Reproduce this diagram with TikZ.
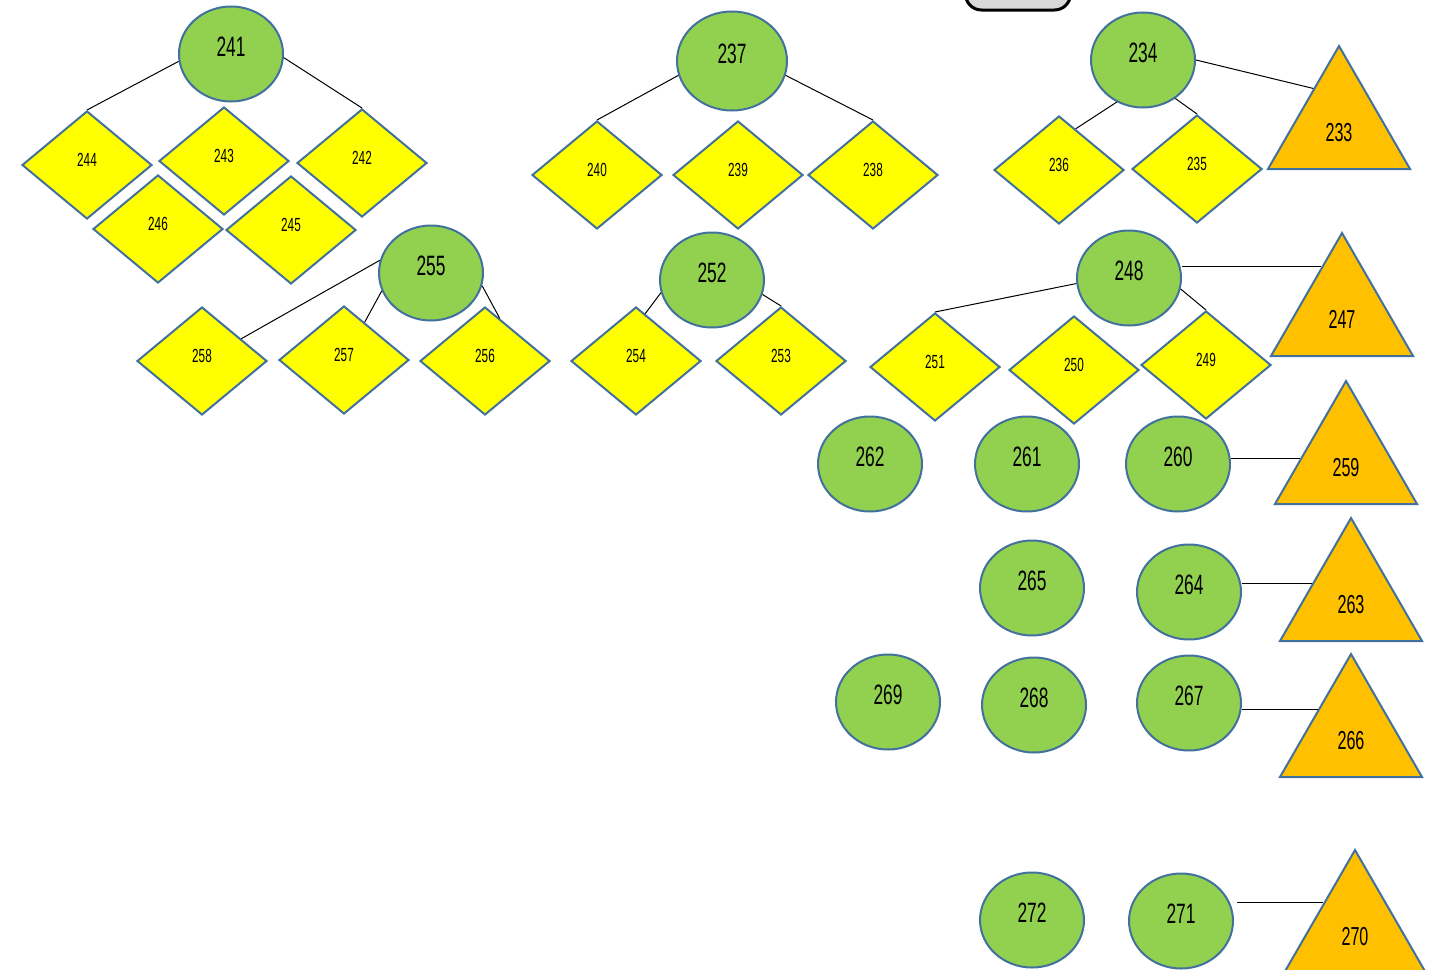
\documentclass[tikz,border=0pt]{standalone}
\usepackage{fontspec}
\setmainfont{Liberation Sans}[FakeStretch=0.62]
\usetikzlibrary{shapes.geometric}
\definecolor{leafgreen}{HTML}{92D050}
\definecolor{gemyellow}{HTML}{FFFF00}
\definecolor{peakorange}{HTML}{FFC000}
\definecolor{edgeblue}{HTML}{41719C}
\definecolor{boxgray}{HTML}{D9D9D9}
\tikzset{
  ring/.style={ellipse, draw=edgeblue, line width=1pt, fill=leafgreen, minimum width=52pt, minimum height=47.5pt, inner sep=0pt, text depth=7pt, font=\fontsize{14}{14}\selectfont},
  gem/.style={diamond, aspect=1.2, draw=edgeblue, line width=1pt, fill=gemyellow, minimum width=65pt, minimum height=54pt, inner sep=0pt, text depth=5pt, font=\fontsize{9.5}{9.5}\selectfont},
  peak/.style={regular polygon, regular polygon sides=3, draw=edgeblue, line width=1pt, fill=peakorange, minimum size=82pt, inner sep=0pt, text height=13.5pt, font=\fontsize{13}{13}\selectfont},
  link/.style={draw=black, line width=0.5pt}
}
\begin{document}
\begin{tikzpicture}[x=0.5pt, y=-0.5pt]
\useasboundingbox (0,0) rectangle (1429,969);
\node[draw=black, line width=1.5pt, fill=boxgray, rounded corners=8pt, minimum width=52.5pt, minimum height=25pt] (topbox) at (1018,-15) {};

\node[ring] (n241) at (231,54) {241};
\node[ring, minimum width=55pt, minimum height=49.5pt] (n237) at (732,61) {237};
\node[ring] (n234) at (1143,60) {234};
\node[ring] (n255) at (431,273) {255};
\node[ring] (n252) at (712,280) {252};
\node[ring] (n248) at (1129,278) {248};
\node[ring] (n262) at (870,464) {262};
\node[ring] (n261) at (1027,464) {261};
\node[ring] (n260) at (1178,464) {260};
\node[ring] (n265) at (1032,588) {265};
\node[ring] (n264) at (1189,592) {264};
\node[ring] (n269) at (888,702) {269};
\node[ring] (n268) at (1034,705) {268};
\node[ring] (n267) at (1189,703) {267};
\node[ring] (n272) at (1032,920) {272};
\node[ring] (n271) at (1181,921) {271};

\node[gem] (n244) at (87,165) {244};
\node[gem] (n243) at (224,161) {243};
\node[gem] (n242) at (362,163) {242};
\node[gem] (n246) at (158,229) {246};
\node[gem] (n245) at (291,230) {245};
\node[gem] (n240) at (597,175) {240};
\node[gem] (n239) at (738,175) {239};
\node[gem] (n238) at (873,175) {238};
\node[gem] (n236) at (1059,170) {236};
\node[gem] (n235) at (1197,169) {235};
\node[gem] (n258) at (202,361) {258};
\node[gem] (n257) at (344,360) {257};
\node[gem] (n256) at (485,361) {256};
\node[gem] (n254) at (636,361) {254};
\node[gem] (n253) at (781,361) {253};
\node[gem] (n251) at (935,367) {251};
\node[gem] (n250) at (1074,370) {250};
\node[gem] (n249) at (1206,365) {249};

\node[peak] (n233) at (1339,128) {233};
\node[peak] (n247) at (1342,315) {247};
\node[peak] (n259) at (1346,463) {259};
\node[peak] (n263) at (1351,600) {263};
\node[peak] (n266) at (1351,736) {266};
\node[peak] (n270) at (1355,932) {270};

\draw[link] (n241.188) -- (n244.north);
\draw[link] (n241.-4) -- (n242.north);
\draw[link] (n237.195) -- (n240.north);
\draw[link] (n237.-15) -- (n238.north);
\draw[link] (n234.east) -- (n233.123);
\draw[link] (n234.238) -- (n236.68);
\draw[link] (n234.-50) -- (n235.north);
\draw[link] (n255.166) -- (n258);
\draw[link] (n255.200) -- (n257);
\draw[link] (n255.-14) -- (n256.71);
\draw[link] (n252.194) -- (n254.79);
\draw[link] (n252.-16) -- (n253.north);
\draw[link] (n248.186) -- (n251.north);
\draw[link] (n248.-12) -- (n249.north);
\draw[link] (n248.east |- n247.113) -- (n247.113);
\draw[link] (n260.east |- n259.174) -- (n259.174);
\draw[link] (n264.east |- n263.157) -- (n263.157);
\draw[link] (n267.east |- n266.141) -- (n266.141);
\draw[link] ([xshift=1.5pt]n271.east |- n270.137) -- (n270.137);
\end{tikzpicture}
\end{document}
